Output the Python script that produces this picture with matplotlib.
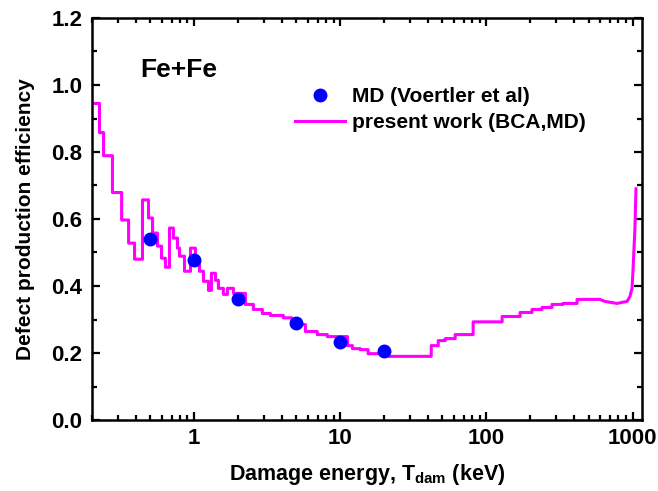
import numpy as np
import matplotlib
matplotlib.use("Agg")
import matplotlib.pyplot as plt
from matplotlib.ticker import MultipleLocator, LogLocator, NullFormatter, FixedLocator, FixedFormatter

plt.rcParams['font.family'] = ['Liberation Sans', 'DejaVu Sans']
plt.rcParams['font.weight'] = 'bold'
plt.rcParams['mathtext.fontset'] = 'custom'
plt.rcParams['mathtext.rm'] = 'Liberation Sans:bold'
plt.rcParams['mathtext.bf'] = 'Liberation Sans:bold'
plt.rcParams['mathtext.default'] = 'rm'

# BCA+MD step curve (bin start energy in keV, efficiency)
step_E = [0.205, 0.225, 0.240, 0.276, 0.319, 0.356, 0.391, 0.443, 0.487, 0.519,
          0.561, 0.598, 0.636, 0.678, 0.721, 0.769, 0.794, 0.859, 0.944, 1.02,
          1.087, 1.158, 1.253, 1.313, 1.399, 1.466, 1.585, 1.689, 1.856, 2.243,
          2.543, 2.929, 3.323, 4.077, 4.67, 5.33, 5.77, 6.96, 8.15, 11.2,
          12.1, 13.7, 15.5, 20.9, 41.9, 46.8, 52.2, 61.1, 81.1, 128,
          170, 205, 240, 281, 334, 417]
step_eff = [0.945, 0.858, 0.789, 0.679, 0.597, 0.528, 0.480, 0.657, 0.603, 0.558,
            0.519, 0.483, 0.456, 0.573, 0.543, 0.513, 0.489, 0.444, 0.513, 0.474,
            0.444, 0.414, 0.387, 0.438, 0.417, 0.393, 0.375, 0.393, 0.378, 0.345,
            0.330, 0.318, 0.312, 0.305, 0.298, 0.285, 0.264, 0.255, 0.249, 0.222,
            0.213, 0.210, 0.198, 0.190, 0.222, 0.237, 0.243, 0.255, 0.293, 0.309,
            0.321, 0.330, 0.336, 0.345, 0.348, 0.360]
# smooth high-energy tail
tail_E = [598, 647, 782, 916, 960, 991, 1006, 1038, 1055]
tail_eff = [0.360, 0.354, 0.348, 0.354, 0.369, 0.393, 0.444, 0.573, 0.690]

# MD reference points
md_E = [0.5, 1.0, 2.0, 5.0, 10.0, 20.0]
md_eff = [0.54, 0.477, 0.36, 0.29, 0.232, 0.205]

# build the full line: steps then tail
xs, ys = [], []
edges = step_E + [tail_E[0]]
for i, v in enumerate(step_eff):
    xs += [edges[i], edges[i + 1]]
    ys += [v, v]
xs += tail_E[1:]
ys += tail_eff[1:]

fig = plt.figure(figsize=(6.58, 4.91), dpi=100)
ax = fig.add_axes([92/658, 1 - 420/491, (642 - 92)/658, (420 - 18)/491])

ax.plot(xs, ys, color='#FF00FF', lw=2.2, label='present work (BCA,MD)', zorder=2)
ax.plot(md_E, md_eff, 'o', color='#0000FF', ms=9, mec='#0000FF',
        label='MD (Voertler et al)', zorder=3)

ax.set_xscale('log')
ax.set_xlim(0.2, 1160)
ax.set_ylim(0, 1.2)

ax.xaxis.set_major_locator(FixedLocator([1, 10, 100, 1000]))
ax.xaxis.set_major_formatter(FixedFormatter(['1', '10', '100', '1000']))
ax.xaxis.set_minor_locator(LogLocator(base=10, subs=np.arange(2, 10), numticks=20))
ax.xaxis.set_minor_formatter(NullFormatter())
ax.yaxis.set_major_locator(MultipleLocator(0.2))
ax.yaxis.set_minor_locator(MultipleLocator(0.1))
ax.yaxis.set_major_formatter(plt.FuncFormatter(lambda v, p: f'{v:.1f}'))

ax.tick_params(which='both', direction='in', top=True, right=True, width=1.6)
ax.tick_params(which='major', length=6, labelsize=16)
ax.tick_params(axis='y', which='major', pad=7)
ax.tick_params(axis='x', which='major', pad=6)
ax.tick_params(which='minor', length=3.5)
for lab in ax.get_xticklabels() + ax.get_yticklabels():
    lab.set_fontweight('bold')
for s in ax.spines.values():
    s.set_linewidth(1.8)

ax.set_xlabel(r'Damage energy, T$_{\mathrm{dam}}$ (keV)', fontsize=15.5, fontweight='bold', labelpad=9)
ax.set_ylabel('Defect production efficiency', fontsize=15, fontweight='bold', labelpad=12)

ax.text(0.087, 0.871, 'Fe+Fe', transform=ax.transAxes, fontsize=19, fontweight='bold',
        ha='left', va='center')

handles, labels = ax.get_legend_handles_labels()
leg = ax.legend(handles[::-1], labels[::-1], loc='upper left',
                bbox_to_anchor=((295 - 92) / 550, (420 - 87) / 402), frameon=False,
                fontsize=15, borderpad=0, borderaxespad=0,
                handlelength=2.4, handletextpad=0.35, labelspacing=0.33, numpoints=1)
for t in leg.get_texts():
    t.set_fontweight('bold')

fig.savefig('out.png', dpi=100)
